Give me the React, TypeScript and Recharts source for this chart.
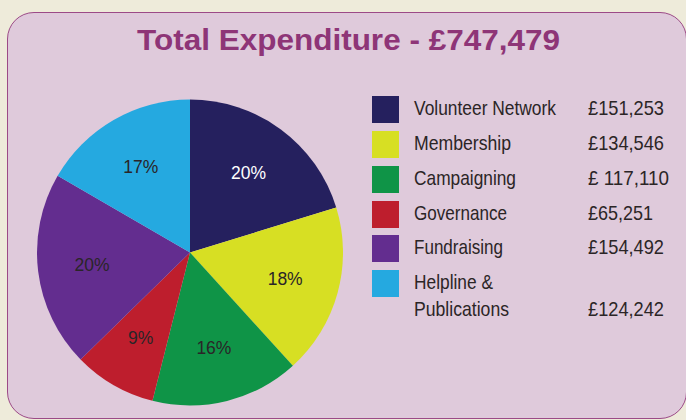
import React from "react";
import { PieChart, Pie, Cell } from "recharts";

const categories = [
  "Volunteer Network",
  "Membership",
  "Campaigning",
  "Governance",
  "Fundraising",
  "Helpline & Publications",
];
const legendLines = [
  ["Volunteer Network"],
  ["Membership"],
  ["Campaigning"],
  ["Governance"],
  ["Fundraising"],
  ["Helpline &", "Publications"],
];
const values = [151253, 134546, 117110, 65251, 154492, 124242];
const valueLabels = ["£151,253", "£134,546", "£ 117,110", "£65,251", "£154,492", "£124,242"];
const percentLabels = ["20%", "18%", "16%", "9%", "20%", "17%"];
const colors = ["#25205e", "#d7df23", "#0f9447", "#be1e2d", "#632d8f", "#25a9e0"];
const labelColors = ["#ffffff", "#2a2528", "#2a2528", "#2a2528", "#2a2528", "#2a2528"];
const title = "Total Expenditure - £747,479";

const data = categories.map((name, i) => ({ name, value: values[i] }));

const FONT = "'Liberation Sans', Arial, Helvetica, sans-serif";
const RAD = Math.PI / 180;

// measured text widths (condensed Helvetica look)
const labelWidths = [142, 97, 102, 93, 89, 79];
const label2Widths = [0, 0, 0, 0, 0, 95];
const valueWidths = [76, 76, 81, 65, 76, 76];

const renderLabel = (props: any) => {
  const { cx, cy, midAngle, outerRadius, index } = props;
  const r = outerRadius * 0.645;
  const x = cx + r * Math.cos(-midAngle * RAD);
  const y = cy + r * Math.sin(-midAngle * RAD);
  return (
    <text
      x={x}
      y={y}
      fill={labelColors[index]}
      textAnchor="middle"
      dominantBaseline="central"
      fontFamily={FONT}
      fontSize={17.5}
    >
      {percentLabels[index]}
    </text>
  );
};

export default function App() {
  const rowTop = [96, 131, 166, 201, 235, 270];
  return (
    <div
      style={{
        position: "absolute",
        left: 0,
        top: 0,
        width: 686,
        height: 420,
        background: "#eeebda",
        overflow: "hidden",
      }}
    >
      <div
        style={{
          position: "absolute",
          left: 7,
          top: 12,
          width: 678,
          height: 405,
          background: "#dfcadb",
          border: "1.5px solid #9c4a87",
          borderRadius: 27,
        }}
      />
      <svg
        width={686}
        height={420}
        style={{ position: "absolute", left: 0, top: 0 }}
      >
        <text
          x={137}
          y={50}
          fontFamily={FONT}
          fontWeight="bold"
          fontSize={30}
          fill="#8e3577"
          textLength={423}
          lengthAdjust="spacingAndGlyphs"
        >
          {title}
        </text>
        {categories.map((c, i) => {
          const top = rowTop[i];
          const base = top + 18.5;
          const lines = legendLines[i];
          const valueBase = lines.length > 1 ? base + 27.5 : base;
          return (
            <g key={c}>
              <rect x={372} y={top} width={27} height={27} fill={colors[i]} />
              <text
                x={414}
                y={base}
                fontFamily={FONT}
                fontSize={21}
                fill="#2b2526"
                textLength={labelWidths[i]}
                lengthAdjust="spacingAndGlyphs"
              >
                {lines[0]}
              </text>
              {lines.length > 1 && (
                <text
                  x={414}
                  y={base + 27.5}
                  fontFamily={FONT}
                  fontSize={21}
                  fill="#2b2526"
                  textLength={label2Widths[i]}
                  lengthAdjust="spacingAndGlyphs"
                >
                  {lines[1]}
                </text>
              )}
              <text
                x={588}
                y={valueBase}
                fontFamily={FONT}
                fontSize={21}
                fill="#2b2526"
                textLength={valueWidths[i]}
                lengthAdjust="spacingAndGlyphs"
              >
                {valueLabels[i]}
              </text>
            </g>
          );
        })}
      </svg>
      <div style={{ position: "absolute", left: 0, top: 0 }}>
        <PieChart width={686} height={420} margin={{ top: 0, right: 0, bottom: 0, left: 0 }}>
          <Pie
            data={data}
            dataKey="value"
            nameKey="name"
            cx={190}
            cy={252.5}
            outerRadius={153}
            startAngle={90}
            endAngle={-270}
            stroke="none"
            label={renderLabel}
            labelLine={false}
            isAnimationActive={false}
          >
            {data.map((d, i) => (
              <Cell key={d.name} fill={colors[i]} />
            ))}
          </Pie>
        </PieChart>
      </div>
    </div>
  );
}
